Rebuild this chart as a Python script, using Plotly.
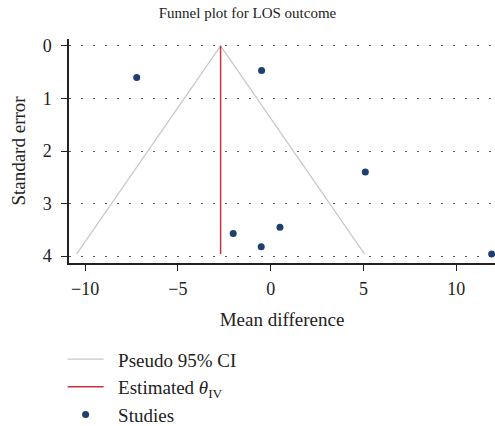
import plotly.graph_objects as go

# Study estimates: mean difference and standard error
mean_diff = [-7.22, -0.49, 5.10, -2.02, 0.50, -0.51, 11.91]
std_err = [0.60, 0.47, 2.40, 3.57, 3.45, 3.82, 3.96]

# Pooled (inverse-variance) estimate and funnel extent
theta_iv = -2.70
se_max = 3.96
z95 = 1.96

x_ticks = [-10, -5, 0, 5, 10]
x_tick_text = ["\u221210", "\u22125", "0", "5", "10"]
y_ticks = [0, 1, 2, 3, 4]

FONT = "Liberation Serif"
INK = "#222222"
GAP = "\u00a0\u00a0"  # extra room between legend symbol and label

fig = go.Figure()

# Pseudo 95% confidence limits
fig.add_trace(go.Scatter(
    x=[theta_iv - z95 * se_max, theta_iv, theta_iv + z95 * se_max],
    y=[se_max, 0, se_max],
    mode="lines",
    line=dict(color="#c8c8c8", width=1.2),
    name=GAP + "Pseudo 95% CI",
))

# Estimated effect
fig.add_trace(go.Scatter(
    x=[theta_iv, theta_iv],
    y=[0, se_max],
    mode="lines",
    line=dict(color="#cc2f3c", width=1.5),
    name=GAP + "Estimated <i>θ</i><sub>IV</sub>",
))

# Individual studies
fig.add_trace(go.Scatter(
    x=mean_diff,
    y=std_err,
    mode="markers",
    marker=dict(color="#1f3f6f", size=7),
    name=GAP + "Studies",
))

fig.update_layout(
    width=495,
    height=426,
    margin=dict(l=69, r=0, t=39, b=163, autoexpand=False),
    paper_bgcolor="white",
    plot_bgcolor="white",
    font=dict(family=FONT, size=18, color=INK),
    title=dict(
        text="Funnel plot for LOS outcome",
        x=0.5, xref="container", xanchor="center",
        y=1 - 13 / 426, yref="container", yanchor="middle",
        font=dict(family=FONT, size=15, color=INK),
    ),
    showlegend=True,
    legend=dict(
        x=-0.015, xanchor="left",
        y=-0.345, yanchor="top",
        bgcolor="rgba(0,0,0,0)",
        font=dict(family=FONT, size=19, color=INK),
        itemwidth=36,
    ),
)

fig.update_xaxes(
    range=[-10.87, 12.09],
    tickvals=x_ticks,
    ticktext=x_tick_text,
    ticks="outside", ticklen=6, tickwidth=1.3, tickcolor=INK,
    showline=True, linecolor=INK, linewidth=1.5,
    showgrid=False, zeroline=False,
    ticklabelstandoff=3,
    automargin=False,
    tickfont=dict(family=FONT, size=18),
    title=dict(text="Mean difference", font=dict(family=FONT, size=19), standoff=14),
)

fig.update_yaxes(
    range=[4.13, -0.13],
    tickvals=y_ticks,
    ticks="outside", ticklen=6, tickwidth=1.3, tickcolor=INK,
    showline=True, linecolor=INK, linewidth=1.5,
    showgrid=True, gridcolor="#555555", gridwidth=1, griddash="1.5px,10.5px",
    zeroline=False,
    ticklabelstandoff=6,
    automargin=False,
    tickfont=dict(family=FONT, size=18),
    title=dict(text="Standard error", font=dict(family=FONT, size=19), standoff=12),
)

fig.write_html("out.html")
